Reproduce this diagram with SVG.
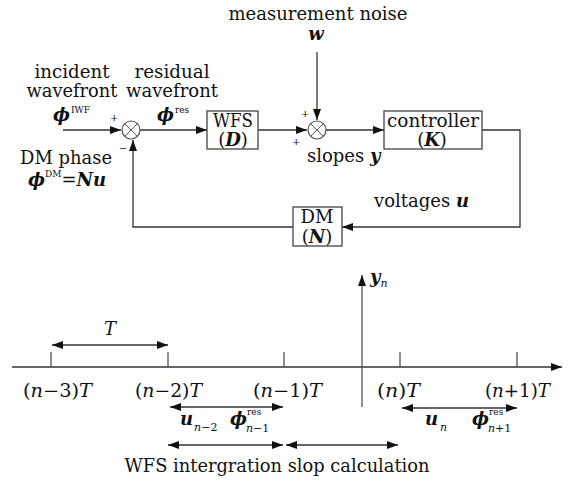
<svg xmlns="http://www.w3.org/2000/svg" width="580" height="482" viewBox="0 0 580 482">
<style>
text{font-family:"DejaVu Serif","Liberation Serif",serif;fill:#111;font-size:18px}
.bi{font-weight:bold;font-style:italic}
.it{font-style:italic}
.sm{font-size:9px}
.pm{font-size:10px}
.sub{font-size:11px;font-style:italic}
.s11{font-size:11px}
.ln{stroke:#333;stroke-width:1.3;fill:none}
.box{fill:#fff;stroke:#444;stroke-width:1.3}
.sum{fill:#fff;stroke:#555;stroke-width:1.2}
</style>
<defs>
<marker id="ah" markerUnits="userSpaceOnUse" markerWidth="12" markerHeight="8" refX="11" refY="4" orient="auto-start-reverse">
<path d="M0,0 L11,4 L0,8 z" fill="#111"/>
</marker>
</defs>

<g id="connectors">
<path class="ln" d="M63,130 H121" marker-end="url(#ah)"/>
<path class="ln" d="M140,130 H207" marker-end="url(#ah)"/>
<path class="ln" d="M258,130 H307" marker-end="url(#ah)"/>
<path class="ln" d="M317,52 V120" marker-end="url(#ah)"/>
<path class="ln" d="M326,130 H384" marker-end="url(#ah)"/>
<path class="ln" d="M482,130 H520 V227 H342" marker-end="url(#ah)"/>
<path class="ln" d="M293,227 H133 V140" marker-end="url(#ah)"/>
</g>

<g id="sum1">
<circle class="sum" cx="131" cy="130" r="9"/>
<path class="ln" d="M124.6,123.6 L137.4,136.4 M124.6,136.4 L137.4,123.6" style="stroke:#555;stroke-width:1"/>
<text class="pm" x="110" y="121">+</text>
<text class="pm" x="119" y="152">−</text>
</g>

<g id="sum2">
<circle class="sum" cx="317" cy="130" r="9"/>
<path class="ln" d="M310.6,123.6 L323.4,136.4 M310.6,136.4 L323.4,123.6" style="stroke:#555;stroke-width:1"/>
<text class="pm" x="301" y="117">+</text>
<text class="pm" x="292" y="145">+</text>
</g>

<g id="wfs">
<rect class="box" x="207" y="111" width="51" height="38"/>
<text x="233" y="127" text-anchor="middle" textLength="40" lengthAdjust="spacingAndGlyphs">WFS</text>
<text x="233" y="146" text-anchor="middle">(<tspan class="bi">D</tspan>)</text>
</g>

<g id="controller">
<rect class="box" x="384" y="111" width="98" height="38"/>
<text x="433" y="127" text-anchor="middle" textLength="92" lengthAdjust="spacingAndGlyphs">controller</text>
<text x="432" y="146" text-anchor="middle">(<tspan class="bi">K</tspan>)</text>
</g>

<g id="dm">
<rect class="box" x="293" y="207" width="49" height="39"/>
<text x="317" y="223" text-anchor="middle">DM</text>
<text x="317" y="243" text-anchor="middle">(<tspan class="bi">N</tspan>)</text>
</g>

<g id="labels">
<text x="318" y="20" text-anchor="middle" textLength="179" lengthAdjust="spacingAndGlyphs">measurement noise</text>
<text class="bi" x="316" y="40" text-anchor="middle">w</text>
<text x="72" y="78" text-anchor="middle" textLength="75" lengthAdjust="spacingAndGlyphs">incident</text>
<text x="72" y="97" text-anchor="middle" textLength="91" lengthAdjust="spacingAndGlyphs">wavefront</text>
<text x="53" y="121"><tspan class="bi">ϕ</tspan><tspan class="sm" dx="1" dy="-8">IWF</tspan></text>
<text x="172" y="78" text-anchor="middle" textLength="75" lengthAdjust="spacingAndGlyphs">residual</text>
<text x="172" y="97" text-anchor="middle" textLength="92" lengthAdjust="spacingAndGlyphs">wavefront</text>
<text x="157" y="121"><tspan class="bi">ϕ</tspan><tspan class="sm" dx="1" dy="-8">res</tspan></text>
<text x="20" y="164" textLength="92" lengthAdjust="spacingAndGlyphs">DM phase</text>
<text x="28" y="186"><tspan class="bi">ϕ</tspan><tspan class="sm" dy="-9">DM</tspan><tspan dy="9">=</tspan><tspan class="bi">Nu</tspan></text>
<text x="307" y="162">slopes <tspan class="bi">y</tspan></text>
<text x="374" y="207">voltages <tspan class="bi">u</tspan></text>
</g>

<g id="timeline">
<path class="ln" d="M12,367 H562" marker-end="url(#ah)"/>
<path class="ln" d="M51,352 V367 M168,352 V367 M284,352 V367 M400,352 V367 M517,352 V367" style="stroke:#555"/>
<path class="ln" d="M362,407 V275" marker-end="url(#ah)" style="stroke:#555"/>
<path class="ln" d="M52,345 H168" marker-start="url(#ah)" marker-end="url(#ah)"/>
<path class="ln" d="M170,407 H283" marker-start="url(#ah)" marker-end="url(#ah)"/>
<path class="ln" d="M402,408 H517" marker-start="url(#ah)" marker-end="url(#ah)"/>
<path class="ln" d="M168,445 H283" marker-start="url(#ah)" marker-end="url(#ah)"/>
<path class="ln" d="M286,445 H398" marker-start="url(#ah)" marker-end="url(#ah)"/>
</g>

<g id="time-labels">
<text class="it" x="110" y="335" text-anchor="middle">T</text>
<text x="23" y="397" textLength="69" lengthAdjust="spacingAndGlyphs">(<tspan class="it">n</tspan>−3)<tspan class="it">T</tspan></text>
<text x="135" y="397" textLength="67" lengthAdjust="spacingAndGlyphs">(<tspan class="it">n</tspan>−2)<tspan class="it">T</tspan></text>
<text x="253" y="397" textLength="69" lengthAdjust="spacingAndGlyphs">(<tspan class="it">n</tspan>−1)<tspan class="it">T</tspan></text>
<text x="377" y="397" textLength="43" lengthAdjust="spacingAndGlyphs">(<tspan class="it">n</tspan>)<tspan class="it">T</tspan></text>
<text x="485" y="397" textLength="65" lengthAdjust="spacingAndGlyphs">(<tspan class="it">n</tspan>+1)<tspan class="it">T</tspan></text>
<text x="370" y="283"><tspan class="bi">y</tspan><tspan class="sub" dy="4">n</tspan></text>
<text x="180" y="425"><tspan class="bi">u</tspan><tspan class="sub" dx="1" dy="6">n</tspan><tspan class="s11">−2</tspan></text>
<text x="230" y="425" class="bi">ϕ</text>
<text class="sm" x="247" y="415">res</text>
<text class="s11" x="246" y="432"><tspan class="it">n</tspan>−1</text>
<text x="425" y="425"><tspan class="bi">u</tspan><tspan class="sub" dx="2" dy="6">n</tspan></text>
<text x="472" y="425" class="bi">ϕ</text>
<text class="sm" x="489" y="415">res</text>
<text class="s11" x="488" y="432"><tspan class="it">n</tspan>+1</text>
<text x="277" y="472" text-anchor="middle" textLength="305" lengthAdjust="spacingAndGlyphs">WFS intergration slop calculation</text>
</g>
</svg>
